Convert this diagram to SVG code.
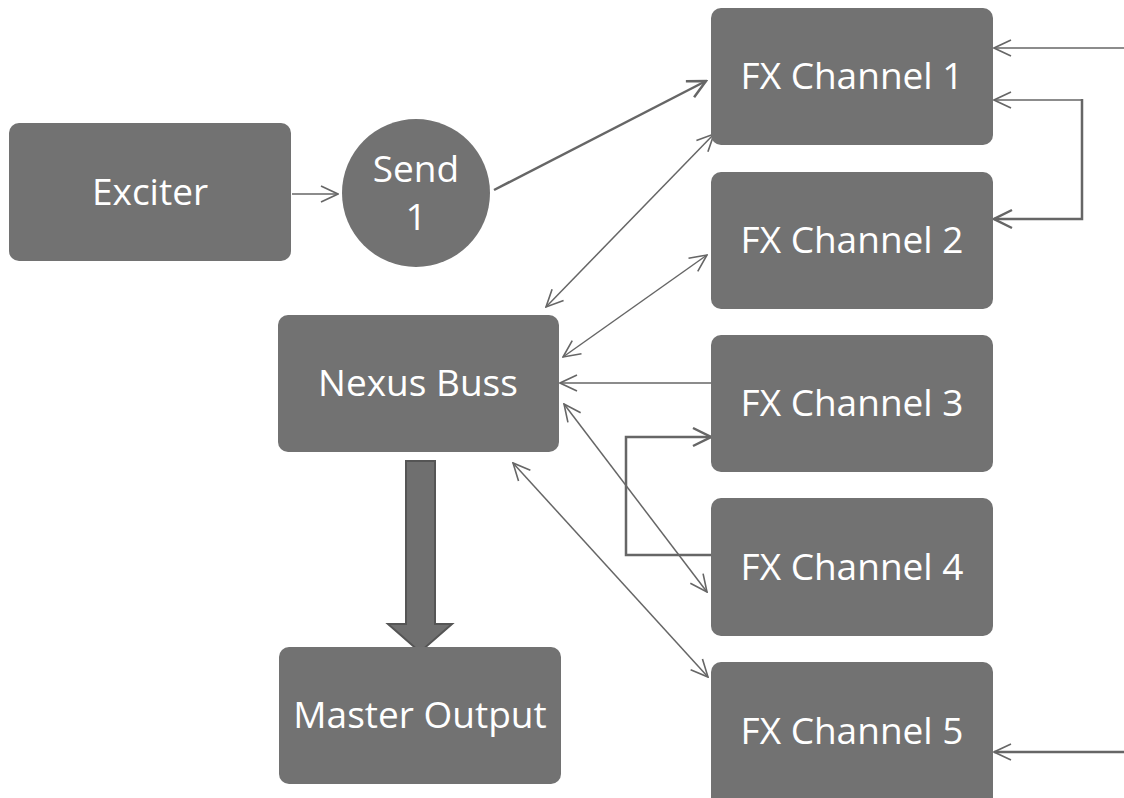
<svg xmlns="http://www.w3.org/2000/svg" width="1124" height="798" viewBox="0 0 1124 798">
  <defs>
    <style>
      .box { fill: #727272; }
      .lbl { fill: #ffffff; font-family: "Open Sans", "Liberation Sans", sans-serif; font-size: 37px; text-anchor: middle; dominant-baseline: central; }
      .wire { stroke: #666666; stroke-width: 1.5; fill: none; }
      .wire2 { stroke: #666666; stroke-width: 2.5; fill: none; }
    </style>
    <marker id="arr" viewBox="0 0 20 20" refX="19" refY="10" markerWidth="20" markerHeight="20" markerUnits="userSpaceOnUse" orient="auto-start-reverse">
      <path d="M2,2 L19,10 L2,18" fill="none" stroke="#666666" stroke-width="1.6"/>
    </marker>
    <marker id="arrB" viewBox="0 0 22 22" refX="20" refY="11" markerWidth="22" markerHeight="22" markerUnits="userSpaceOnUse" orient="auto-start-reverse">
      <path d="M2,2 L20,11 L2,20" fill="none" stroke="#666666" stroke-width="2.5"/>
    </marker>
  </defs>
  <rect width="1124" height="798" fill="#ffffff"/>

  <g id="connectors">
    <line class="wire" x1="292" y1="194" x2="338" y2="194" marker-end="url(#arr)"/>
    <line class="wire2" x1="494" y1="190" x2="706" y2="81" marker-end="url(#arrB)"/>
    <line class="wire" x1="714" y1="134" x2="546" y2="307" marker-start="url(#arr)" marker-end="url(#arr)"/>
    <line class="wire" x1="707" y1="255" x2="563" y2="357" marker-start="url(#arr)" marker-end="url(#arr)"/>
    <line class="wire" x1="711" y1="383" x2="560" y2="383" marker-end="url(#arr)"/>
    <line class="wire" x1="564" y1="404" x2="707" y2="592" marker-start="url(#arr)" marker-end="url(#arr)"/>
    <line class="wire" x1="513" y1="463" x2="708" y2="677" marker-start="url(#arr)" marker-end="url(#arr)"/>
    <line class="wire" x1="1124" y1="48" x2="994" y2="48" marker-end="url(#arr)"/>
    <polyline class="wire" points="1082,100 994,100" marker-end="url(#arr)"/>
    <polyline class="wire2" points="1082,99 1082,219 994,219" marker-end="url(#arrB)"/>
    <polyline class="wire2" points="711,555 626,555 626,437 711,437" marker-end="url(#arrB)"/>
    <line class="wire2" x1="1124" y1="752" x2="994" y2="752" marker-end="url(#arr)"/>
    <polygon points="406,461 435,461 435,624 452,624 420,652 388,624 406,624" fill="#6f6f6f" stroke="#555555" stroke-width="2"/>
  </g>

  <g id="exciter">
    <rect class="box" x="9" y="123" width="282" height="138" rx="10"/>
    <text class="lbl" x="150" y="190">Exciter</text>
  </g>
  <g id="send1">
    <circle class="box" cx="416" cy="193" r="74"/>
    <text class="lbl" x="416" y="167">Send</text>
    <text class="lbl" x="416" y="215">1</text>
  </g>
  <g id="nexus-buss">
    <rect class="box" x="278" y="315" width="281" height="137" rx="10"/>
    <text class="lbl" x="418" y="381">Nexus Buss</text>
  </g>
  <g id="master-output">
    <rect class="box" x="279" y="647" width="282" height="137" rx="10"/>
    <text class="lbl" x="420" y="713">Master Output</text>
  </g>
  <g id="fx1">
    <rect class="box" x="711" y="8" width="282" height="137" rx="10"/>
    <text class="lbl" x="852" y="74">FX Channel 1</text>
  </g>
  <g id="fx2">
    <rect class="box" x="711" y="172" width="282" height="137" rx="10"/>
    <text class="lbl" x="852" y="238">FX Channel 2</text>
  </g>
  <g id="fx3">
    <rect class="box" x="711" y="335" width="282" height="137" rx="10"/>
    <text class="lbl" x="852" y="401">FX Channel 3</text>
  </g>
  <g id="fx4">
    <rect class="box" x="711" y="498" width="282" height="138" rx="10"/>
    <text class="lbl" x="852" y="565">FX Channel 4</text>
  </g>
  <g id="fx5">
    <rect class="box" x="711" y="662" width="282" height="146" rx="10"/>
    <text class="lbl" x="852" y="729">FX Channel 5</text>
  </g>
</svg>
